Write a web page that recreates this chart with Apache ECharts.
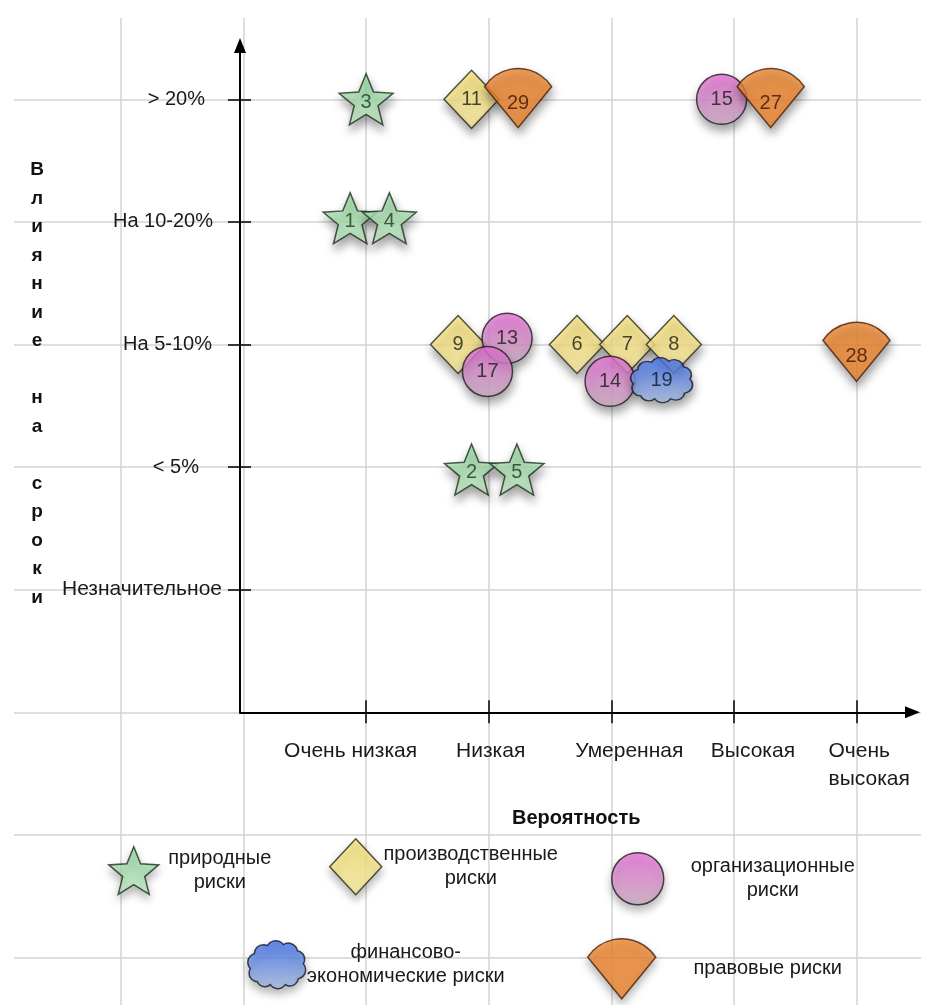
<!DOCTYPE html>
<html>
<head>
<meta charset="utf-8">
<script src="https://cdn.jsdelivr.net/npm/echarts@6/dist/echarts.min.js"></script>
<style>
  html, body { margin: 0; padding: 0; background: #ffffff; }
  #chart { width: 925px; height: 1005px; }
</style>
</head>
<body>
<div id="chart"></div>
<script>
// Axis categories (ordinal scales, 1..5)
const probabilityLabels = ['Очень низкая', 'Низкая', 'Умеренная', 'Высокая', 'Очень\nвысокая'];
const impactLabels = ['Незначительное', '< 5%', 'На 5-10%', 'На 10-20%', '> 20%'];
const xAxisTitle = 'Вероятность';
const yAxisTitle = 'Влияние на сроки';

// Risks: [probability, impact, risk number]
const naturalRisks = [[0.87, 4.03, 1], [1.19, 4.03, 4], [1.0, 5.0, 3], [1.86, 1.98, 2], [2.23, 1.98, 5]];
const productionRisks = [[1.86, 5.0, 11], [1.75, 3.0, 9], [2.72, 3.0, 6], [3.13, 3.0, 7], [3.51, 3.0, 8]];
const organizationalRisks = [[3.9, 5.0, 15], [2.15, 3.05, 13], [1.99, 2.78, 17], [2.99, 2.7, 14]];
const financialRisks = [[3.41, 2.71, 19]];
const legalRisks = [[2.24, 5.01, 29], [4.3, 5.01, 27], [5.0, 2.94, 28]];

const seriesNames = ['природные риски', 'производственные риски', 'организационные риски',
  'финансово-экономические риски', 'правовые риски'];
const legendLines = [['природные', 'риски'], ['производственные', 'риски'], ['организационные', 'риски'],
  ['финансово-', 'экономические риски'], ['правовые риски']];

// ---- drawing setup ----
const FONT = '"Liberation Sans", Arial, Helvetica, sans-serif';
const STEP = 122.6;                  // pixels per scale unit
const X0 = 243.5, Y0 = 712.3;        // pixel position of value 0 on each axis
const GRID_LEFT = 240, GRID_TOP = 45.5, GRID_RIGHT_PX = 912.5;

const STAR = 'path://M50 0 L62.93 32.2 L97.55 34.55 L70.92 56.8 L79.39 90.45 L50 72 L20.61 90.45 L29.08 56.8 L2.45 34.55 L37.07 32.2 Z';
const CLOUD = 'path://M12 40 A8.5 8.5 0 0 1 5 27 A9 9 0 0 1 9 12 A9 9 0 0 1 22 4 A9.5 9.5 0 0 1 38 3 A9 9 0 0 1 52 9 A8.5 8.5 0 0 1 58 22 A9 9 0 0 1 53 37 A8.5 8.5 0 0 1 40 43 A9 9 0 0 1 25 43 A8 8 0 0 1 12 40 Z';
const SECTOR = 'path://M0 18 A40 40 0 0 1 67 18 L33.5 59 Z';

function vgrad(c1, c2) {
  return { type: 'linear', x: 0, y: 0, x2: 0, y2: 1, colorStops: [{ offset: 0, color: c1 }, { offset: 1, color: c2 }] };
}

const styles = [
  { symbol: STAR, size: [54, 51], fill: vgrad('#93dda0', '#c9f2cc'), stroke: '#1f2f1f', text: '#1c3a1c', offset: [0, 3] },
  { symbol: 'diamond', size: [55, 58], fill: vgrad('#fde678', '#fff0a0'), stroke: '#2a2a1a', text: '#1a1a1a', offset: [0, 0] },
  { symbol: 'circle', size: 50, fill: vgrad('#ee6fdc', '#cfb0c6'), stroke: '#221a22', text: '#1a1a1a', offset: [0, 0] },
  { symbol: CLOUD, size: [62, 45], fill: vgrad('#3c6ef2', '#aabfe2'), stroke: '#14182a', text: '#10152a', offset: [0, 0] },
  { symbol: SECTOR, size: [67, 59], fill: '#f28a32', stroke: '#4a1e06', text: '#3a1405', offset: [0, 5] }
];
const seriesData = [naturalRisks, productionRisks, organizationalRisks, financialRisks, legalRisks];

const series = seriesData.map((data, i) => ({
  type: 'scatter',
  name: seriesNames[i],
  xAxisIndex: 0,
  yAxisIndex: 0,
  data: data,
  symbol: styles[i].symbol,
  symbolSize: styles[i].size,
  clip: false,
  silent: true,
  itemStyle: {
    color: styles[i].fill,
    borderColor: styles[i].stroke,
    borderWidth: 1.5,
    shadowColor: 'rgba(0,0,0,0.45)',
    shadowBlur: 10,
    shadowOffsetX: 1,
    shadowOffsetY: 6
  },
  label: {
    show: true,
    position: 'inside',
    formatter: p => String(p.value[2]),
    color: styles[i].text,
    fontFamily: FONT,
    fontSize: 20,
    offset: styles[i].offset
  },
  emphasis: { disabled: true }
}));

// Legend blocks: icon box position/size and width of the centred caption
const legendLayout = [
  { left: 108, top: 846, w: 50, h: 48, tw: 112 },
  { left: 329, top: 838, w: 52, h: 56, tw: 168 },
  { left: 611, top: 852, w: 52, h: 54, tw: 208 },
  { left: 247, top: 940, w: 58, h: 56, tw: 190 },
  { left: 587, top: 938, w: 68, h: 60, tw: 214 }
];
const legendIcons = [STAR, 'diamond', 'circle', CLOUD, SECTOR];

const legends = legendLayout.map((L, i) => ({
  left: L.left,
  top: L.top,
  padding: 0,
  orient: 'horizontal',
  itemWidth: L.w,
  itemHeight: L.h,
  selectedMode: false,
  icon: legendIcons[i],
  data: [seriesNames[i]],
  itemStyle: { borderWidth: 1.5, shadowColor: 'rgba(0,0,0,0.35)', shadowBlur: 8, shadowOffsetY: 5 },
  formatter: () => legendLines[i].map(t => '{c|' + t + '}').join('\n'),
  textStyle: {
    rich: {
      c: { width: L.tw, align: 'center', fontSize: 20, lineHeight: 24, fontFamily: FONT, color: '#1a1a1a' }
    }
  }
}));

// Per-label horizontal nudges of the axis captions
const xLabelPad = [[0, 31, 0, 0], [0, 0, 0, 4], [0, 0, 0, 36], [0, 0, 0, 38], [0, 0, 0, 28]];
const yLabelPad = [0, 23, 10, 9, 17];

const xRich = {};
xLabelPad.forEach((p, i) => {
  xRich['x' + i] = { padding: p, fontSize: 21, lineHeight: 28, fontFamily: FONT, color: '#1a1a1a', align: 'left', width: i === 4 ? 84 : undefined };
});
const yRich = {};
yLabelPad.forEach((p, i) => {
  yRich['y' + i] = { padding: [0, p, 0, 0], fontSize: i === 0 ? 21 : 20, fontFamily: FONT, color: '#1a1a1a' };
});

const tickValues = [1, 2, 3, 4, 5];
const xMin = (GRID_LEFT - X0) / STEP;
const xMax = (GRID_RIGHT_PX - X0) / STEP;
const yMax = (Y0 - GRID_TOP) / STEP;

const axisLineStyle = { color: '#000', width: 2 };
const tickStyle = { color: '#000', width: 1.5 };
const bgLine = { show: true, lineStyle: { color: '#d3d3d3', width: 1.5 } };

const option = {
  backgroundColor: '#ffffff',
  animation: false,
  title: [{
    text: yAxisTitle.split('').map(c => (c === ' ' ? '' : c)).join('\n'),
    left: 37,
    top: 156,
    padding: 0,
    textAlign: 'center',
    textVerticalAlign: 'top',
    textStyle: { fontFamily: FONT, fontSize: 19, fontWeight: 'bold', lineHeight: 28.5, color: '#111' }
  }],
  legend: legends,
  grid: [
    { left: GRID_LEFT, top: GRID_TOP, width: GRID_RIGHT_PX - GRID_LEFT, height: Y0 - GRID_TOP, outerBoundsMode: 'none' },
    // background drawing grid: vertical rules
    { left: 121 - STEP, top: 18, width: STEP * 8, height: 1005 - 18, outerBoundsMode: 'none' },
    // background drawing grid: horizontal rules
    { left: 14, top: 99.3 - STEP, width: 907, height: STEP * 8, outerBoundsMode: 'none' }
  ],
  xAxis: [
    {
      gridIndex: 0, type: 'value', min: xMin, max: xMax, z: 3,
      axisLine: { show: true, onZero: false, lineStyle: axisLineStyle, symbol: ['none', 'triangle'], symbolSize: [12, 15] },
      axisTick: { show: true, customValues: tickValues, length: 11, lineStyle: tickStyle },
      axisLabel: {
        customValues: tickValues, margin: 25,
        showMinLabel: true, showMaxLabel: true, hideOverlap: false,
        formatter: v => {
          const i = Math.round(v) - 1;
          return probabilityLabels[i].split('\n').map(t => '{x' + i + '|' + t + '}').join('\n');
        },
        rich: xRich
      },
      splitLine: { show: false },
      name: xAxisTitle, nameLocation: 'middle', nameGap: 96,
      nameTextStyle: { fontFamily: FONT, fontSize: 20, fontWeight: 'bold', color: '#111' }
    },
    {
      gridIndex: 0, type: 'value', min: xMin, max: xMax, position: 'bottom', z: 3,
      axisLine: { show: false, onZero: false },
      axisTick: { show: true, inside: true, customValues: tickValues, length: 12, lineStyle: tickStyle },
      axisLabel: { show: false },
      splitLine: { show: false }
    },
    {
      gridIndex: 1, type: 'value', min: 0, max: 8, interval: 1, z: -1,
      axisLine: { show: false }, axisTick: { show: false }, axisLabel: { show: false },
      splitLine: bgLine
    },
    {
      gridIndex: 2, type: 'value', min: 0, max: 1, show: false
    }
  ],
  yAxis: [
    {
      gridIndex: 0, type: 'value', min: 0, max: yMax, z: 3,
      axisLine: { show: true, onZero: false, lineStyle: axisLineStyle, symbol: ['none', 'triangle'], symbolSize: [12, 15] },
      axisTick: { show: true, customValues: tickValues, length: 12, lineStyle: tickStyle },
      axisLabel: {
        customValues: tickValues, margin: 18,
        showMinLabel: true, showMaxLabel: true, hideOverlap: false,
        formatter: v => {
          const i = Math.round(v) - 1;
          return '{y' + i + '|' + impactLabels[i] + '}';
        },
        rich: yRich
      },
      splitLine: { show: false }
    },
    {
      gridIndex: 0, type: 'value', min: 0, max: yMax, position: 'left', z: 3,
      axisLine: { show: false, onZero: false },
      axisTick: { show: true, inside: true, customValues: tickValues, length: 11, lineStyle: tickStyle },
      axisLabel: { show: false },
      splitLine: { show: false }
    },
    {
      gridIndex: 1, type: 'value', min: 0, max: 1, show: false
    },
    {
      gridIndex: 2, type: 'value', min: 0, max: 8, interval: 1, z: -1,
      axisLine: { show: false }, axisTick: { show: false }, axisLabel: { show: false },
      splitLine: bgLine
    }
  ],
  series: series
};

const chart = echarts.init(document.getElementById('chart'), null, { renderer: 'canvas' });
chart.setOption(option);
</script>
</body>
</html>
